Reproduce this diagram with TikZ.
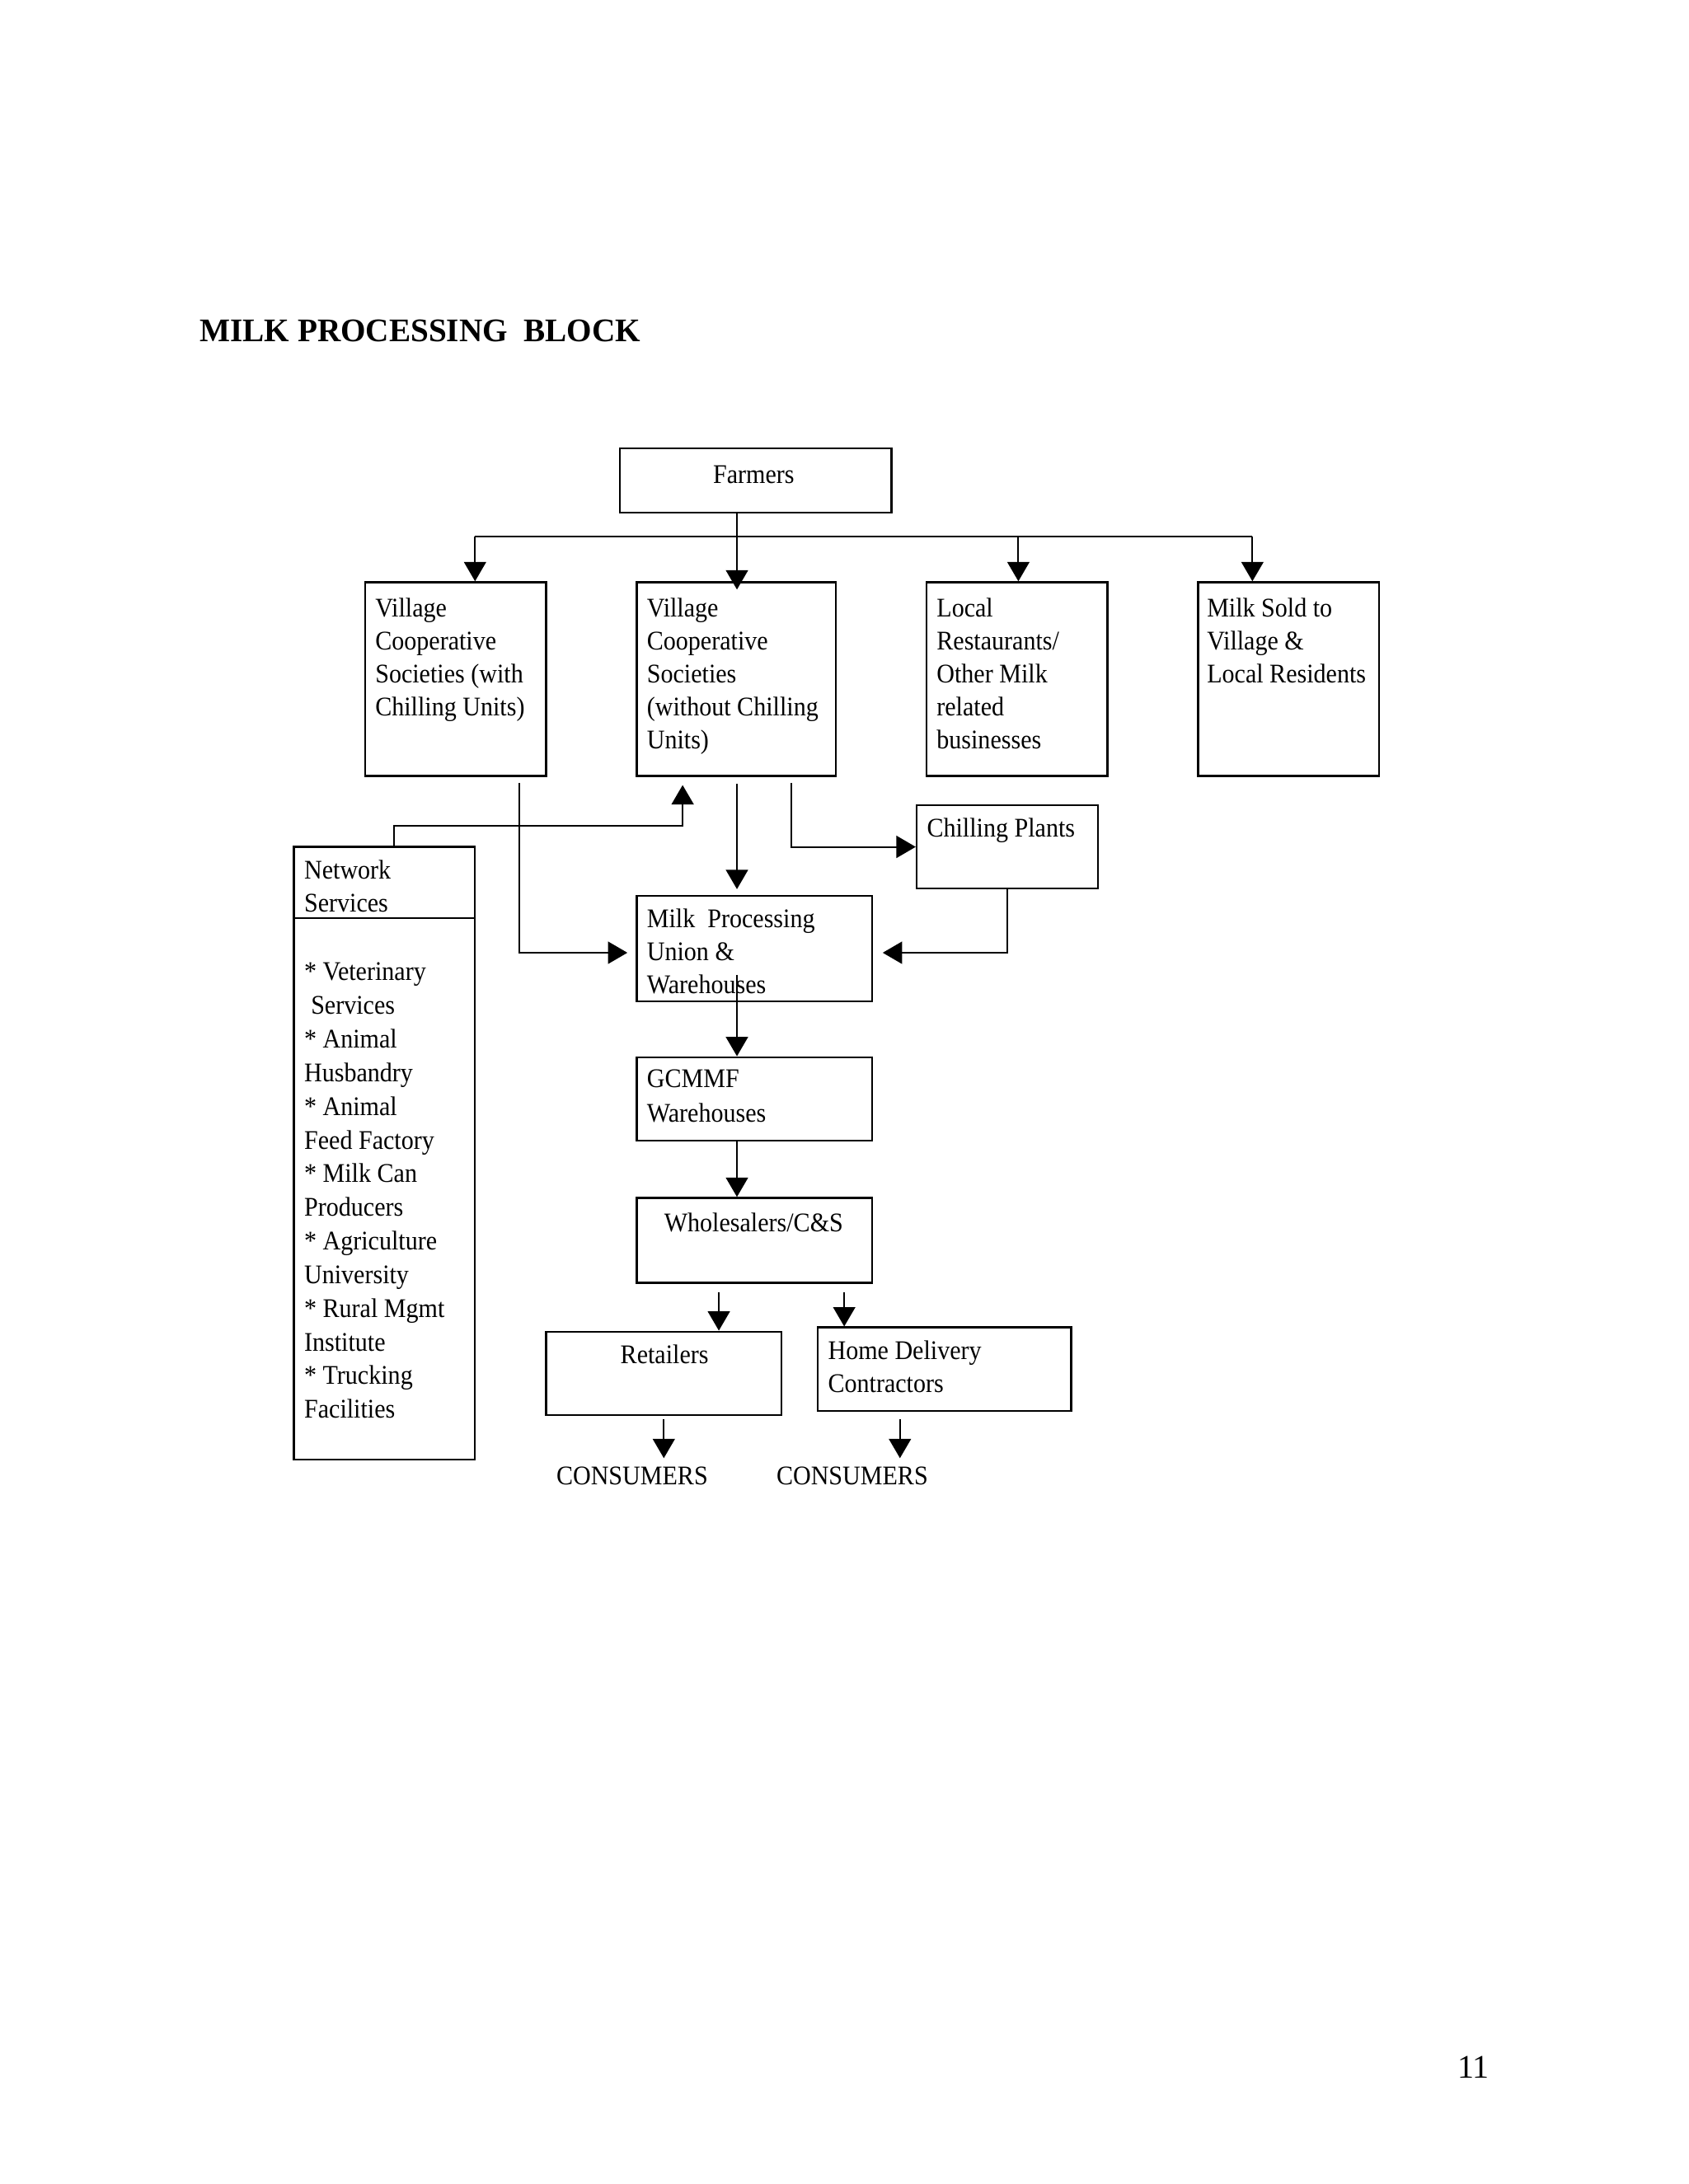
\documentclass[tikz,border=0pt]{standalone}
\usepackage{fontspec}
\setmainfont{Liberation Serif}
\newfontfamily\boxfont[FakeStretch=0.92]{Liberation Serif}
\newfontfamily\titlefont[FakeStretch=0.98]{Liberation Serif}
\usetikzlibrary{arrows.meta,fit}

% lines of a box text, first baseline on the node's base
\newcommand{\boxlines}[1]{\begin{tabular}[t]{@{}l@{}}#1\end{tabular}}

\tikzset{
  box/.style={draw, line width=0.7bp, inner sep=0pt},
  txt/.style={anchor=base west, inner sep=0pt, font=\boxfont\fontsize{9.8}{12}\selectfont},
  arr/.style={line width=0.6bp, -{Triangle[length=7bp,width=8bp]}},
  link/.style={line width=0.6bp}
}

\begin{document}
\begin{tikzpicture}[x=0.505bp, y=-0.505bp]
\useasboundingbox (0,0) rectangle (1212,1568);

% title and page number
\node[anchor=base west, inner sep=0pt, font=\titlefont\bfseries\fontsize{12}{14}\selectfont] (title) at (143,245) {MILK PROCESSING\ \ BLOCK};
\node[anchor=base west, inner sep=0pt, font=\fontsize{12}{14}\selectfont] (page) at (1046,1492) {11};

% boxes
\node[box, fit={(445,322)(640,368)}] (farmers) {};
\node[box, fit={(262,418)(392,557)}] (vcs1) {};
\node[box, fit={(457,418)(600,557)}] (vcs2) {};
\node[box, fit={(665,418)(795,557)}] (local) {};
\node[box, fit={(860,418)(990,557)}] (sold) {};
\node[box, fit={(658,578)(788,638)}] (chill) {};
\node[box, fit={(211,608)(341,1048)}] (net) {};
\node[box, fit={(457,643)(626,719)}] (mpu) {};
\node[box, fit={(457,759)(626,819)}] (gcmmf) {};
\node[box, fit={(457,860)(626,921)}] (whole) {};
\node[box, fit={(392,956)(561,1016)}] (retail) {};
\node[box, fit={(587,953)(769,1013)}] (home) {};
\draw[line width=0.7bp] (net.west |- 0,659) -- (net.east |- 0,659);

% texts
\node[txt, anchor=base] (farmers-t) at (541,347) {Farmers};
\node[txt] (vcs1-t) at (269,443) {\boxlines{Village\\Cooperative\\Societies (with\\Chilling Units)}};
\node[txt] (vcs2-t) at (464,443) {\boxlines{Village\\Cooperative\\Societies\\(without Chilling\\Units)}};
\node[txt] (local-t) at (672,443) {\boxlines{Local\\Restaurants/\\Other Milk\\related\\businesses}};
\node[txt] (sold-t) at (866,443) {\boxlines{Milk Sold to\\Village \&\\Local Residents}};
\node[txt] (chill-t) at (665,601) {Chilling Plants};
\node[txt] (net-t) at (218,631) {\boxlines{Network\\Services}};
\node[txt, font=\boxfont\fontsize{9.8}{12.25}\selectfont] (net-l) at (218,704) {\boxlines{* Veterinary\\\hspace*{0.25em}Services\\{}* Animal\\Husbandry\\{}* Animal\\Feed Factory\\{}* Milk Can\\Producers\\{}* Agriculture\\University\\{}* Rural Mgmt\\Institute\\{}* Trucking\\Facilities}};
\node[txt] (mpu-t) at (464,666) {\boxlines{Milk~~Processing\\Union \&\\Warehouses}};
\node[txt, font=\boxfont\fontsize{9.8}{12.6}\selectfont] (gcmmf-t) at (464,781) {\boxlines{GCMMF\\Warehouses}};
\node[txt, anchor=base] (whole-t) at (541,884) {Wholesalers/C\&S};
\node[txt, anchor=base] (retail-t) at (477,979) {Retailers};
\node[txt] (home-t) at (594,976) {\boxlines{Home Delivery\\Contractors}};
\node[txt] (cons1) at (399,1066) {CONSUMERS};
\node[txt] (cons2) at (557,1066) {CONSUMERS};

% farmers to the four outlets
\coordinate (spine) at (529,385);
\coordinate (d1) at (341,385);
\coordinate (d3) at (731,385);
\coordinate (d4) at (899,385);
\draw[link] (d1) -- (d4);
\draw[arr] (farmers.south -| spine) -- ([yshift=-3bp]vcs2.north -| spine);
\draw[arr] (d1) -- (d1 |- vcs1.north);
\draw[arr] (d3) -- (d3 |- local.north);
\draw[arr] (d4) -- (d4 |- sold.north);

% societies to union and chilling plants
\coordinate (v1out) at (373,562);
\coordinate (v2side) at (568,562);
\draw[arr, shorten >=3bp] (v1out) |- (mpu.west |- 0,684);
\draw[arr, shorten >=2bp] ([yshift=-2.5bp]vcs2.south -| spine) -- (mpu.north -| spine);
\draw[arr] (v2side) |- (chill.west);
\draw[arr, shorten >=3.5bp] (chill.south) |- (mpu.east |- 0,684);
\draw[arr, shorten >=3bp] (net.north -| 283,0) |- (490,593) -- (vcs2.south -| 490,0);

% down the chain
\draw[arr] ([yshift=10bp]mpu.south -| spine) -- (gcmmf.north -| spine);
\draw[arr] (gcmmf.south -| spine) -- (whole.north -| spine);
\coordinate (w1) at (516,928);
\coordinate (w2) at (606,928);
\draw[arr] (w1) -- (w1 |- retail.north);
\draw[arr] (w2) -- (w2 |- home.north);
\draw[arr, shorten >=3bp] ([yshift=-1bp]retail.south) -- (retail.south |- cons1.north);
\draw[arr, shorten >=3bp] ([yshift=-2.5bp]home.south -| 646,0) -- (cons2.north -| 646,0);
\end{tikzpicture}
\end{document}
